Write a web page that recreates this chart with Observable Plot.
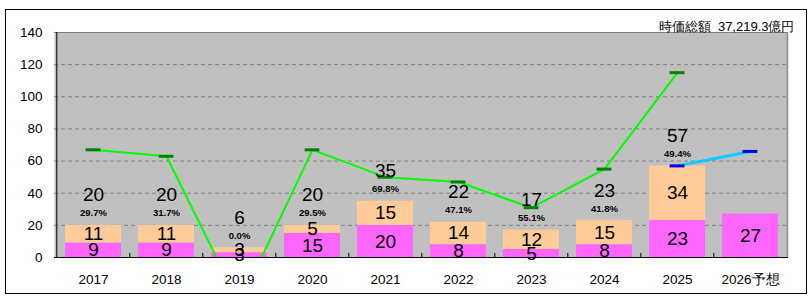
<!DOCTYPE html>
<html>
<head>
<meta charset="utf-8">
<script src="https://cdn.jsdelivr.net/npm/d3@7"></script>
<script src="https://cdn.jsdelivr.net/npm/@observablehq/plot@0.6"></script>
<style>
  body { margin: 0; background: #fff; }
  #wrap { position: relative; width: 808px; height: 299px; }
  #border { position: absolute; left: 5px; top: 9px; width: 800px; height: 283px; border: 1px solid #000; pointer-events: none; }
  svg { font-family: "Liberation Sans", Arial, sans-serif; }
</style>
</head>
<body>
<div id="wrap"><div id="border"></div></div>
<script>
const years = ["2017","2018","2019","2020","2021","2022","2023","2024","2025","2026予想"];
const lowerVals = [9, 9, 3, 15, 20, 8, 5, 8, 23, 27];
const upperVals = [11, 11, 3, 5, 15, 14, 12, 15, 34, null];
const totals = [20, 20, 6, 20, 35, 22, 17, 23, 57, null];
const pcts = ["29.7%", "31.7%", "0.0%", "29.5%", "69.8%", "47.1%", "55.1%", "41.8%", "49.4%", null];
const greenLine = [67, 63, -29, 67, 50, 47, 31, 55, 115, null];
const blueLine = [null, null, null, null, null, null, null, null, 57, 66];
const yTicks = [0, 20, 40, 60, 80, 100, 120, 140];
const gridTicks = [20, 40, 60, 80, 100, 120];
const title = "時価総額  37,219.3億円";

const W = 808, H = 299, mL = 54, mR = 20, mT = 32, mB = 42;
const padIn = 0.235;
const step = (W - mL - mR) / years.length;
const bw = step * (1 - padIn);
const tickInset = (bw - 15) / 2;

const stack = [];
years.forEach((y, i) => {
  if (lowerVals[i] != null) stack.push({year: y, part: "lower", v: lowerVals[i]});
  if (upperVals[i] != null) stack.push({year: y, part: "upper", v: upperVals[i]});
});
const tops = years.map((y, i) => ({year: y, top: (lowerVals[i] || 0) + (upperVals[i] || 0), total: totals[i], pct: pcts[i]})).filter(d => d.total != null);
const green = years.map((y, i) => ({year: y, v: greenLine[i]})).filter(d => d.v != null);
const blue = years.map((y, i) => ({year: y, v: blueLine[i]})).filter(d => d.v != null);

const chart = Plot.plot({
  width: W, height: H,
  marginLeft: mL, marginRight: mR, marginTop: mT, marginBottom: mB,
  style: {background: "transparent", fontFamily: "'Liberation Sans', Arial, sans-serif"},
  x: {domain: years, paddingInner: padIn, paddingOuter: padIn / 2, label: null},
  y: {domain: [0, 140], label: null},
  color: {domain: ["lower", "upper"], range: ["#FF66FF", "#FFCC99"]},
  marks: [
    Plot.frame({fill: "#C0C0C0", stroke: null}),
    Plot.ruleY(gridTicks, {stroke: "#808080", strokeDasharray: "4,3", strokeWidth: 1}),
    Plot.barY(stack, Plot.stackY({x: "year", y: "v", fill: "part", z: "part", order: ["lower", "upper"]})),
    Plot.ruleY([140], {stroke: "#808080"}),
    Plot.ruleX([years[years.length - 1]], {dx: step / 2, stroke: "#808080"}),
    Plot.ruleY([0], {stroke: "#000"}),
    Plot.ruleX([years[0]], {dx: -step / 2, stroke: "#000"}),
    Plot.ruleX(years.slice(1), {y1: 0, y2: 2.5, dx: -step / 2, stroke: "#000"}),
    Plot.axisY(yTicks, {tickSize: 0, tickPadding: 12, fontSize: 13.5, fill: "#000", label: null}),
    Plot.axisX({tickSize: 0, tickPadding: 17, fontSize: 13.5, fill: "#000", label: null}),
    Plot.line(green, {x: "year", y: "v", stroke: "#00FF00", strokeWidth: 2, clip: true}),
    Plot.tickY(green, {x: "year", y: "v", stroke: "#008000", strokeWidth: 3, insetLeft: tickInset, insetRight: tickInset, clip: true}),
    Plot.line(blue, {x: "year", y: "v", stroke: "#00CCFF", strokeWidth: 3}),
    Plot.tickY(blue, {x: "year", y: "v", stroke: "#0000FF", strokeWidth: 3, insetLeft: tickInset, insetRight: tickInset}),
    Plot.text(stack, Plot.stackY({x: "year", y: "v", z: "part", order: ["lower", "upper"], text: d => String(d.v), fontSize: 19, fill: "#000"})),
    Plot.text(tops, {x: "year", y: "top", text: d => String(d.total), dy: -30, fontSize: 19, fill: "#000"}),
    Plot.text(tops, {x: "year", y: "top", text: "pct", dy: -12, fontSize: 9.5, fontWeight: "bold", fill: "#000"}),
    Plot.text([title], {frameAnchor: "top-right", text: d => d, dy: -11, dx: 6, textAnchor: "end", fontSize: 13, fill: "#000"})
  ]
});
document.getElementById("wrap").appendChild(chart);
</script>
</body>
</html>
